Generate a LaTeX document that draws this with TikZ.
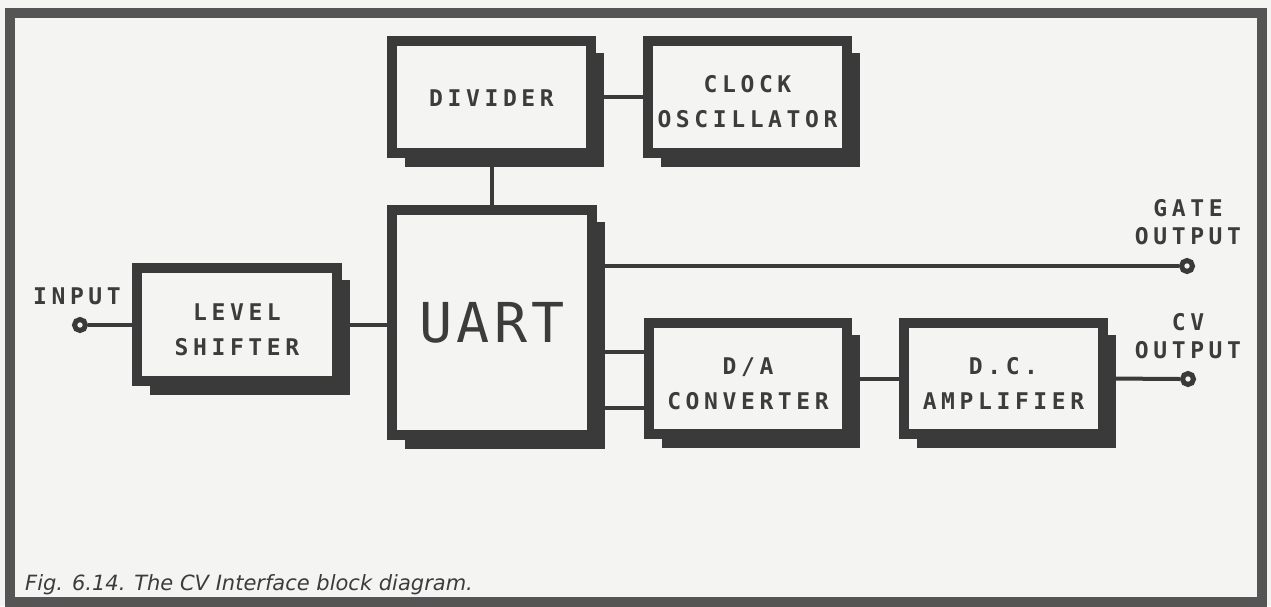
\documentclass[tikz,border=0pt]{standalone}
\usepackage{fontspec}
\newfontfamily\lblfont[LetterSpace=20]{DejaVu Sans Mono}
\newfontfamily\uartfont[LetterSpace=8]{DejaVu Sans Mono}
\newfontfamily\capfont{DejaVu Sans}
\definecolor{ink}{HTML}{3A3A3A}
\definecolor{framec}{HTML}{555555}
\definecolor{paper}{HTML}{F4F4F2}
\definecolor{txt}{HTML}{3C3C3C}
\pgfdeclarelayer{back}
\pgfsetlayers{back,main}
\newcommand\boxshadow[1]{\fill[ink] ([shift={(18,17)}]#1.north west) rectangle ([shift={(7.5,9)}]#1.south east);}
\begin{document}
\begin{tikzpicture}[x=1pt,y=-1pt,
  blk/.style={draw=ink, line width=10pt, fill=paper, inner sep=0pt},
  boxtext/.style={align=center, text=txt, inner sep=0pt,
              font=\lblfont\bfseries\fontsize{23}{35}\selectfont},
  wire/.style={draw=ink, line width=4pt},
  term/.style={circle, draw=ink, line width=5pt, fill=paper, minimum size=11pt, inner sep=0pt},
  lbl/.style={text=txt, align=center, inner sep=0pt, font=\lblfont\bfseries\fontsize{23}{28}\selectfont},
]
\useasboundingbox (0,0) rectangle (1271,606);

% blocks
\node[blk, minimum width=199pt, minimum height=112pt] (div) at (491.5,97) {};
\node[blk, minimum width=199pt, minimum height=112pt] (clk) at (747.5,97) {};
\node[blk, minimum width=200pt, minimum height=225pt] (uart) at (492,322.5) {};
\node[blk, minimum width=200pt, minimum height=113pt] (lvl) at (237,324.5) {};
\node[blk, minimum width=198pt, minimum height=111pt] (da) at (748,378.5) {};
\node[blk, minimum width=199pt, minimum height=111pt] (dc) at (1003.5,378.5) {};

% block texts
\node[boxtext] (divt) at ([yshift=-1.5pt]div.center) {DIVIDER};
\node[boxtext] (clkt) at ([yshift=-5pt]clk.center) {CLOCK\\OSCILLATOR};
\node[text=txt, inner sep=0pt, font=\uartfont\fontsize{55}{60}\selectfont] (uartt) at (uart.center) {UART};
\node[boxtext] (lvlt) at ([yshift=-5pt]lvl.center) {LEVEL\\SHIFTER};
\node[boxtext] (dat) at ([yshift=-5pt]da.center) {D/A\\CONVERTER};
\node[boxtext] (dct) at ([yshift=-5pt]dc.center) {D.C.\\AMPLIFIER};

% terminals
\node[term] (inp) at (80,325) {};
\node[term] (gate) at (1187,266) {};
\node[term] (cv) at (1188,379) {};

% terminal labels
\node[lbl] (inpl) at (77,296) {INPUT};
\node[lbl] (gatel) at (1188,222) {GATE\\OUTPUT};
\node[lbl] (cvl) at (1188,336) {CV\\OUTPUT};

% shadows, frame and connectors behind the blocks
\begin{pgfonlayer}{back}
  \fill[paper] (0,0) rectangle (1271,606);
  \draw[framec, line width=10pt] (9.5,13) rectangle (1261.5,602);
  \boxshadow{div}
  \boxshadow{clk}
  \boxshadow{uart}
  \boxshadow{lvl}
  \boxshadow{da}
  \boxshadow{dc}
  \draw[wire] (div.east) -- (clk.west);
  \draw[wire] (div.south) -- (div.south |- uart.north);
  \draw[wire] (inp.east) -- (inp.east -| lvl.west);
  \draw[wire] (lvl.east) -- (lvl.east -| uart.west);
  \draw[wire] (gate.west) -- (gate.west -| uart.east);
  \draw[wire] ([yshift=26.5pt]da.west) -- ([yshift=26.5pt]da.west -| uart.east);
  \draw[wire] ([yshift=-29.5pt]da.west) -- ([yshift=-29.5pt]da.west -| uart.east);
  \draw[wire] (da.east) -- (dc.west);
  \draw[wire] (dc.east) -- (cv.west);
\end{pgfonlayer}

% caption
\node[anchor=base west, inner sep=0pt, text=txt, font=\capfont\itshape\fontsize{21}{24}\selectfont] (cap) at (25,590) {Fig. 6.14. The CV Interface block diagram.};
\end{tikzpicture}
\end{document}
